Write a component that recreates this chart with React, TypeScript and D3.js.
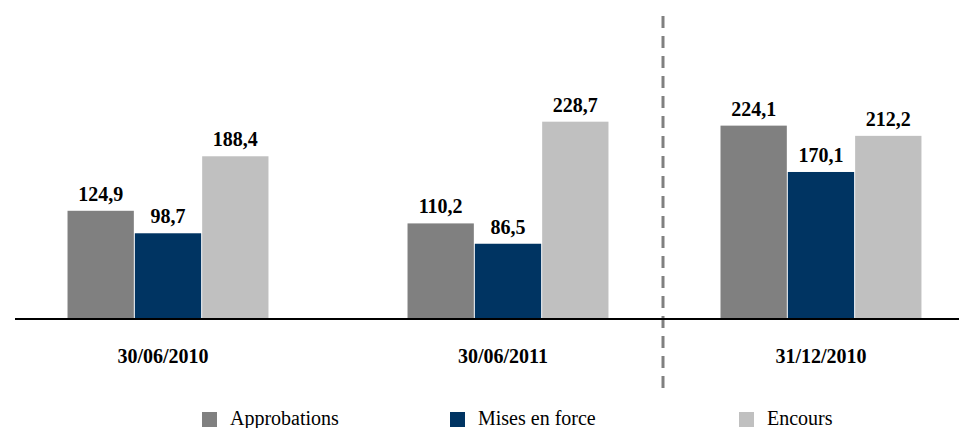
import React, { useEffect, useRef } from 'react';
import * as d3 from 'd3';

const series = ['Approbations', 'Mises en force', 'Encours'];
const colors = ['#808080', '#003462', '#c0c0c0'];

// first two periods are half-year, last one is full year (right of the dashed line)
const halfYears = ['30/06/2010', '30/06/2011'];
const fullYears = ['31/12/2010'];

const approbations = [124.9, 110.2, 224.1];
const misesEnForce = [98.7, 86.5, 170.1];
const encours = [188.4, 228.7, 212.2];

const fmt = (v: number) => v.toFixed(1).replace('.', ',');

export default function App() {
  const svgRef = useRef<SVGSVGElement>(null);

  useEffect(() => {
    if (!svgRef.current) return;
    const svg = d3.select(svgRef.current);
    svg.selectAll('*').remove();

    const width = 959;
    const baseline = 318;
    const font = "'Liberation Serif', 'DejaVu Serif', serif";

    const y = d3.scaleLinear().domain([0, 250]).range([baseline, 103.4]);

    const xLeft = d3.scaleBand<string>()
      .domain(halfYears)
      .range([15, 661])
      .paddingInner(0.406)
      .paddingOuter(0.153);
    const xRight = d3.scaleBand<string>()
      .domain(fullYears)
      .range([720, 921])
      .padding(0);

    const categories = [...halfYears, ...fullYears];
    const groupX = (c: string) => (halfYears.includes(c) ? xLeft(c)! : xRight(c)!);
    const bw = xLeft.bandwidth();

    const inner = d3.scaleBand<string>().domain(series).range([0, bw]).padding(0);

    const values = [approbations, misesEnForce, encours];
    const data = categories.flatMap((c, ci) =>
      series.map((s, si) => ({ c, s, si, v: values[si][ci] }))
    );

    // dashed separator
    svg.append('line')
      .attr('x1', 663).attr('x2', 663)
      .attr('y1', 16).attr('y2', 396)
      .attr('stroke', '#808080')
      .attr('stroke-width', 3)
      .attr('stroke-dasharray', '12 8');

    svg.append('g')
      .selectAll('rect')
      .data(data)
      .join('rect')
      .attr('x', d => groupX(d.c) + inner(d.s)! + 0.5)
      .attr('width', inner.bandwidth() - 1)
      .attr('y', d => y(d.v))
      .attr('height', d => baseline - y(d.v))
      .attr('fill', d => colors[d.si]);

    svg.append('g')
      .selectAll('text')
      .data(data)
      .join('text')
      .attr('x', d => groupX(d.c) + inner(d.s)! + inner.bandwidth() / 2)
      .attr('y', d => y(d.v) - 10)
      .attr('text-anchor', 'middle')
      .style('font-family', font)
      .style('font-weight', 'bold')
      .style('font-size', '20px')
      .attr('fill', '#000')
      .text(d => fmt(d.v));

    // axis line
    svg.append('line')
      .attr('x1', 15).attr('x2', width)
      .attr('y1', baseline + 1).attr('y2', baseline + 1)
      .attr('stroke', '#000')
      .attr('stroke-width', 2);

    svg.append('g')
      .selectAll('text')
      .data(categories)
      .join('text')
      .attr('x', c => groupX(c) + bw / 2 - (halfYears.includes(c) ? 5 : 0))
      .attr('y', 363)
      .attr('text-anchor', 'middle')
      .style('font-family', font)
      .style('font-weight', 'bold')
      .style('font-size', '20px')
      .attr('fill', '#000')
      .text(c => c);

    // legend
    const legendX = d3.scaleOrdinal<string, number>().domain(series).range([202, 450, 739]);
    const lg = svg.append('g')
      .selectAll('g')
      .data(series)
      .join('g')
      .attr('transform', s => `translate(${legendX(s)},412)`);
    lg.append('rect')
      .attr('width', 15).attr('height', 15)
      .attr('fill', (s, i) => colors[i]);
    lg.append('text')
      .attr('x', 28)
      .attr('y', 13)
      .style('font-family', font)
      .style('font-size', '20px')
      .attr('fill', '#000')
      .text(s => s);
  }, []);

  return (
    <svg
      ref={svgRef}
      width={959}
      height={428}
      style={{ position: 'absolute', left: 0, top: 0, background: '#fff' }}
    />
  );
}
